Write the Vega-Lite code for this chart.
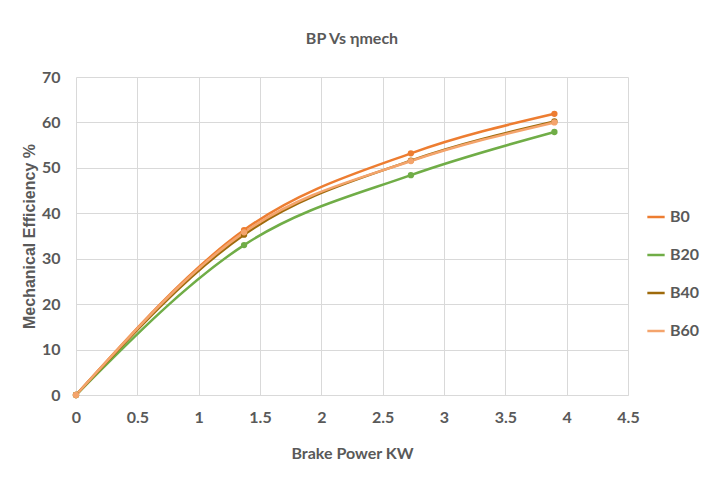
{
  "$schema": "https://vega.github.io/schema/vega-lite/v6.json",
  "autosize": "none",
  "width": 552,
  "height": 318,
  "padding": {"left": 76, "top": 77, "right": 87, "bottom": 88},
  "background": "white",
  "title": {
    "text": "BP Vs ηmech",
    "font": "Lato",
    "fontSize": 16,
    "fontWeight": "bold",
    "color": "#595959",
    "offset": 22,
    "anchor": "middle"
  },
  "data": {
    "values": [
      {"bp": 0, "eff": 0, "fuel": "B0"},
      {"bp": 1.37, "eff": 36.3, "fuel": "B0"},
      {"bp": 2.73, "eff": 53.2, "fuel": "B0"},
      {"bp": 3.9, "eff": 61.9, "fuel": "B0"},
      {"bp": 0, "eff": 0, "fuel": "B20"},
      {"bp": 1.37, "eff": 33.0, "fuel": "B20"},
      {"bp": 2.73, "eff": 48.4, "fuel": "B20"},
      {"bp": 3.9, "eff": 57.9, "fuel": "B20"},
      {"bp": 0, "eff": 0, "fuel": "B40"},
      {"bp": 1.37, "eff": 35.3, "fuel": "B40"},
      {"bp": 2.73, "eff": 51.6, "fuel": "B40"},
      {"bp": 3.9, "eff": 60.2, "fuel": "B40"},
      {"bp": 0, "eff": 0, "fuel": "B60"},
      {"bp": 1.37, "eff": 35.8, "fuel": "B60"},
      {"bp": 2.73, "eff": 51.5, "fuel": "B60"},
      {"bp": 3.9, "eff": 60.0, "fuel": "B60"}
    ]
  },
  "encoding": {
    "x": {
      "field": "bp", "type": "quantitative",
      "scale": {"domain": [0, 4.5], "nice": false, "zero": false},
      "axis": {
        "title": "Brake Power KW",
        "values": [0, 0.5, 1, 1.5, 2, 2.5, 3, 3.5, 4, 4.5],
        "format": "~g",
        "grid": true, "gridColor": "#d9d9d9",
        "domain": true, "domainColor": "#d9d9d9",
        "ticks": false,
        "labelFont": "Lato", "labelFontSize": 16, "labelFontWeight": "bold", "labelColor": "#595959",
        "labelPadding": 14, "labelFlush": false,
        "titleFont": "Lato", "titleFontSize": 16, "titleFontWeight": "bold", "titleColor": "#595959",
        "titlePadding": 20
      }
    },
    "y": {
      "field": "eff", "type": "quantitative",
      "scale": {"domain": [0, 70], "nice": false},
      "axis": {
        "title": "Mechanical Efficiency %",
        "values": [0, 10, 20, 30, 40, 50, 60, 70],
        "format": "d",
        "grid": true, "gridColor": "#d9d9d9",
        "domain": false, "ticks": false,
        "labelFont": "Lato", "labelFontSize": 16, "labelFontWeight": "bold", "labelColor": "#595959",
        "labelPadding": 16, "labelFlush": false,
        "titleFont": "Liberation Sans", "titleFontSize": 16, "titleFontWeight": "bold", "titleColor": "#595959",
        "titlePadding": 4
      }
    },
    "color": {
      "field": "fuel", "type": "nominal",
      "scale": {"domain": ["B0", "B20", "B40", "B60"], "range": ["#ED7D31", "#70AD47", "#9E6A0B", "#F4A46C"]},
      "legend": {
        "title": null,
        "orient": "none",
        "legendX": 570,
        "legendY": 130,
        "symbolType": "stroke",
        "symbolStrokeWidth": 2.5,
        "symbolSize": 300,
        "rowPadding": 20,
        "labelFont": "Lato", "labelFontSize": 16, "labelFontWeight": "bold", "labelColor": "#595959"
      }
    }
  },
  "layer": [
    {"mark": {"type": "line", "interpolate": "monotone", "strokeWidth": 2.5}},
    {"mark": {"type": "circle", "size": 40, "opacity": 1}}
  ],
  "config": {"view": {"stroke": null}}
}
